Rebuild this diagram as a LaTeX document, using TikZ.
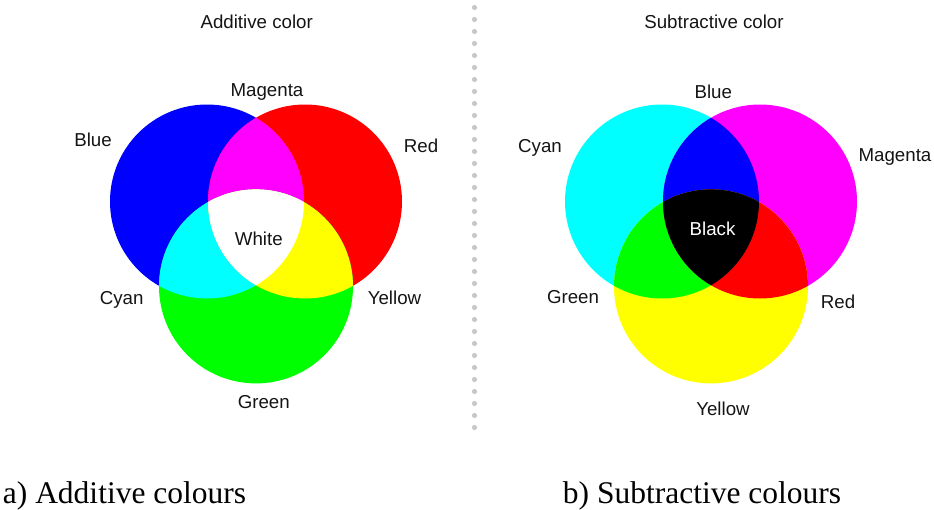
\documentclass[tikz,border=0pt]{standalone}
\usepackage{fontspec}
\setmainfont{Liberation Serif}
\newfontfamily\labelfont{Liberation Sans}
\definecolor{cB}{RGB}{0,0,255}
\definecolor{cR}{RGB}{255,0,0}
\definecolor{cG}{RGB}{0,255,0}
\definecolor{cC}{RGB}{0,255,255}
\definecolor{cM}{RGB}{255,0,255}
\definecolor{cY}{RGB}{255,255,0}
\definecolor{dotgray}{RGB}{200,200,200}
\definecolor{txt}{RGB}{20,20,20}
\begin{document}
\begin{tikzpicture}[x=1pt,y=-1pt,
  lbl/.style={font=\labelfont\fontsize{18.7}{22}\selectfont, text=txt, inner sep=0pt, anchor=base},
  wlbl/.style={lbl, text=white},
  capt/.style={font=\fontsize{31.5}{36}\selectfont, inner sep=0pt, anchor=base west},
  dotc/.style={fill=dotgray},
]
\useasboundingbox (0,0) rectangle (934,509);
\def\R{97pt}
% ---------- additive ----------
\coordinate (B) at (207,201.5);
\coordinate (Rd) at (305,201.5);
\coordinate (G) at (256,286.4);
\fill[cB] (B) circle[radius=\R];
\fill[cR] (Rd) circle[radius=\R];
\fill[cG] (G) circle[radius=\R];
\begin{scope}\clip (B) circle[radius=\R]; \fill[cM] (Rd) circle[radius=\R];\end{scope}
\begin{scope}\clip (B) circle[radius=\R]; \fill[cC] (G) circle[radius=\R];\end{scope}
\begin{scope}\clip (Rd) circle[radius=\R]; \fill[cY] (G) circle[radius=\R];\end{scope}
\begin{scope}\clip (B) circle[radius=\R]; \clip (Rd) circle[radius=\R]; \fill[white] (G) circle[radius=\R];\end{scope}
% ---------- subtractive ----------
\coordinate (C2) at (662,201.5);
\coordinate (M2) at (760,201.5);
\coordinate (Y2) at (711,286.4);
\fill[cC] (C2) circle[radius=\R];
\fill[cM] (M2) circle[radius=\R];
\fill[cY] (Y2) circle[radius=\R];
\begin{scope}\clip (C2) circle[radius=\R]; \fill[cB] (M2) circle[radius=\R];\end{scope}
\begin{scope}\clip (C2) circle[radius=\R]; \fill[cG] (Y2) circle[radius=\R];\end{scope}
\begin{scope}\clip (M2) circle[radius=\R]; \fill[cR] (Y2) circle[radius=\R];\end{scope}
\begin{scope}\clip (C2) circle[radius=\R]; \clip (M2) circle[radius=\R]; \fill[black] (Y2) circle[radius=\R];\end{scope}
% ---------- divider ----------
\foreach \i in {0,...,35} \fill[dotc] (474.5,{7.5+12*\i}) circle[radius=2.6pt];
% ---------- labels additive ----------
\node[lbl] (ta) at (256.7,28) {Additive color};
\node[lbl] (lM) at (267,96.7) {Magenta};
\node[lbl] (lB) at (93,146.5) {Blue};
\node[lbl] (lR) at (421,152) {Red};
\node[lbl] (lW) at (258.8,245) {White};
\node[lbl] (lC) at (121.7,304) {Cyan};
\node[lbl] (lY) at (394.5,304) {Yellow};
\node[lbl] (lG) at (263.8,408) {Green};
% ---------- labels subtractive ----------
\node[lbl] (ts) at (714,28) {Subtractive color};
\node[lbl] (sB) at (713.3,98.3) {Blue};
\node[lbl] (sC) at (540,152) {Cyan};
\node[lbl] (sM) at (895,161.7) {Magenta};
\node[wlbl] (sK) at (712.5,235.7) {Black};
\node[lbl] (sG) at (573,303.3) {Green};
\node[lbl] (sR) at (838,308.3) {Red};
\node[lbl] (sY) at (723,415) {Yellow};
% ---------- captions ----------
\node[capt] (capa) at (2.7,503) {a) Additive colours};
\node[capt] (capb) at (562.7,503) {b) Subtractive colours};
\end{tikzpicture}
\end{document}
